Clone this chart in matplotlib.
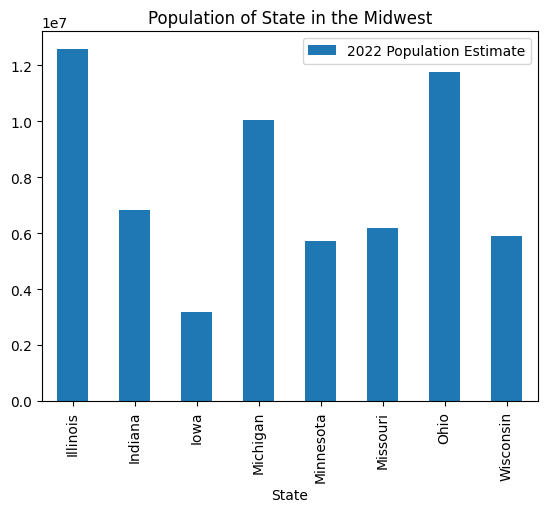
import matplotlib
matplotlib.use("Agg")
import matplotlib.pyplot as plt
import pandas as pd

states = ["Illinois", "Indiana", "Iowa", "Michigan", "Minnesota", "Missouri", "Ohio", "Wisconsin"]
population_2022 = [12582032, 6833037, 3200517, 10034113, 5717184, 6177957, 11756058, 5892539]

df = pd.DataFrame({"State": states, "2022 Population Estimate": population_2022})

ax = df.plot.bar(x="State", y="2022 Population Estimate")
ax.set_title("Population of State in the Midwest")

plt.savefig("out.png", dpi=100, bbox_inches="tight")
